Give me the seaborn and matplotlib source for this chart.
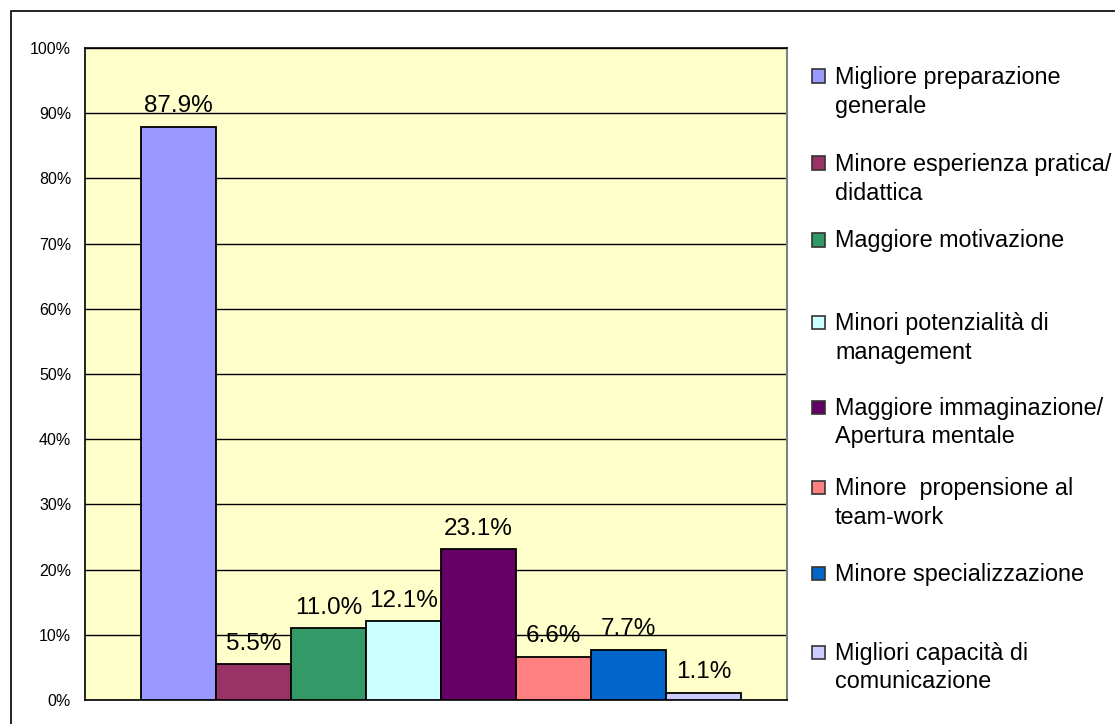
import matplotlib
matplotlib.use("Agg")
import matplotlib.pyplot as plt
import matplotlib.patches as mpatches
from matplotlib.ticker import PercentFormatter, MultipleLocator
import seaborn as sns

# data
categories = [
    "Migliore preparazione\ngenerale",
    "Minore esperienza pratica/\ndidattica",
    "Maggiore motivazione",
    "Minori potenzialità di\nmanagement",
    "Maggiore immaginazione/\nApertura mentale",
    "Minore  propensione al\nteam-work",
    "Minore specializzazione",
    "Migliori capacità di\ncomunicazione",
]
values = [87.9, 5.5, 11.0, 12.1, 23.1, 6.6, 7.7, 1.1]
colors = ["#9999FF", "#993366", "#339966", "#CCFFFF",
          "#660066", "#FF8080", "#0066CC", "#CCCCFF"]

sns.set_style("white")
plt.rcParams["font.family"] = ["Liberation Sans", "DejaVu Sans"]
plt.rcParams["text.color"] = "black"
plt.rcParams["ytick.color"] = "black"
plt.rcParams["xtick.color"] = "black"
plt.rcParams["axes.labelcolor"] = "black"

W, H = 1115, 724
fig = plt.figure(figsize=(W / 100, H / 100), dpi=100)
ax = fig.add_axes([85 / W, 1 - 700 / H, (787 - 85) / W, (700 - 48) / H])
ax.set_facecolor("#FFFFCC")

sns.barplot(x=categories, y=values, hue=categories, palette=colors,
            width=1.0, edgecolor="black", linewidth=1.3, legend=False,
            saturation=1, ax=ax, zorder=3)

ax.set_ylim(0, 100)
ax.set_xlim(-1.247, 8.11)
ax.yaxis.set_major_locator(MultipleLocator(10))
ax.yaxis.set_major_formatter(PercentFormatter(decimals=0))
ax.set_xticks([])
ax.set_xlabel("")
ax.set_ylabel("")
ax.tick_params(axis="y", which="major", direction="out", length=4,
               width=1, color="black", labelcolor="black", labelsize=11.5, pad=6)
ax.grid(axis="y", color="black", linewidth=1, zorder=0)

for side in ["left", "bottom", "top"]:
    ax.spines[side].set_color("black")
    ax.spines[side].set_linewidth(1.2)
ax.spines["right"].set_color("#808080")
ax.spines["right"].set_linewidth(1.5)

# data labels
for i, v in enumerate(values):
    ax.annotate(f"{v:.1f}%", (i, v), xytext=(0, 10.5), textcoords="offset points",
                ha="center", va="baseline", fontsize=17.5, color="black", zorder=5)

# legend drawn entry by entry so the square sits on the first line
legend_y = [76, 163, 240, 322, 407, 487, 573, 652]
line_px = 29
for lab, col, yp in zip(categories, colors, legend_y):
    fig.patches.append(mpatches.Rectangle(
        (812 / W, 1 - (yp + 6.5) / H), 13 / W, 13 / H,
        transform=fig.transFigure, facecolor=col, edgecolor="#333333",
        linewidth=1.2))
    n_lines = lab.count("\n") + 1
    base = yp + 7.5 + (n_lines - 1) * line_px  # baseline of last line
    fig.text(835 / W, 1 - base / H, lab, ha="left", va="baseline",
             fontsize=16.8, linespacing=1.3, color="black")

# outer chart border
fig.patches.append(mpatches.Rectangle(
    (11 / W, -0.05), 1.1, 1 - 11 / H + 0.05, transform=fig.transFigure,
    facecolor="none", edgecolor="black", linewidth=1.2))

fig.savefig("out.png", dpi=100)
